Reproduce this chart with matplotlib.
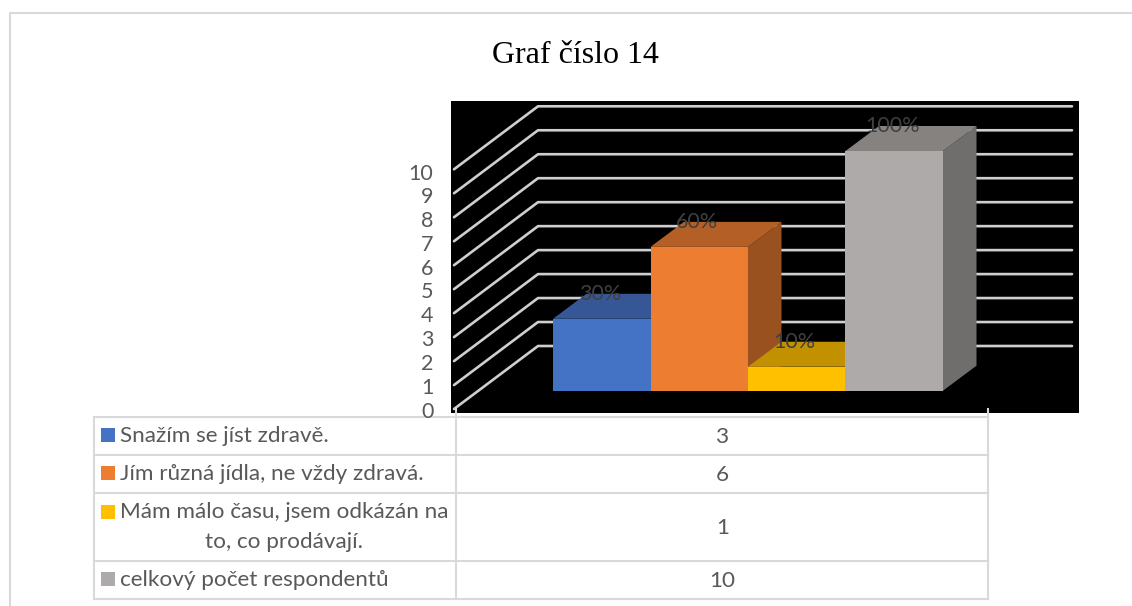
import matplotlib
matplotlib.use("Agg")
import matplotlib.pyplot as plt
from matplotlib.patches import Polygon, Rectangle

# Survey answers and their shares
categories = ["Snažím se jíst zdravě.", "Jím různá jídla, ne vždy zdravá.",
              "Mám málo času, jsem odkázán na\nto, co prodávají.", "celkový počet respondentů"]
values = [3, 6, 1, 10]
percent_labels = ["30%", "60%", "10%", "100%"]
y_ticks = list(range(11))
title = "Graf číslo 14"

front_colors = ["#4472C4", "#ED7D31", "#FFC000", "#ADAAA9"]
top_colors = ["#365695", "#B45F25", "#C19100", "#858280"]
side_colors = ["#2F4B82", "#9A5120", "#A67D00", "#706E6D"]

W, H = 1132, 606
BAR_W_PX, UNIT_PX = 97.5, 23.97
BAR_LEFT_PX, BASE_PX = 553.0, 390.7
DEPTH_X, DEPTH_Y = 33.5 / BAR_W_PX, 25.0 / UNIT_PX
TEXT_GREY = "#595959"
LINE_GREY = "#D9D9D9"
FONT = "Lato"
TABLE_SIZE = 16.2

fig = plt.figure(figsize=(W / 100, H / 100), dpi=100, facecolor="white")

# Page layer in pixel coordinates: outer frame, title and data table
page = fig.add_axes([0, 0, 1, 1], zorder=3)
page.set_xlim(0, W)
page.set_ylim(H, 0)
page.axis("off")
page.patch.set_alpha(0)

# Plot layer: black panel whose data units are category slots and answer counts
PANEL = (451, 101, 1079, 413)
ax = fig.add_axes([PANEL[0] / W, 1 - PANEL[3] / H, (PANEL[2] - PANEL[0]) / W, (PANEL[3] - PANEL[1]) / H],
                  zorder=1)
ax.set_facecolor("black")
ax.set_xlim((PANEL[0] - BAR_LEFT_PX) / BAR_W_PX, (PANEL[2] - BAR_LEFT_PX) / BAR_W_PX)
ax.set_ylim((BASE_PX - PANEL[3]) / UNIT_PX, (BASE_PX - PANEL[1]) / UNIT_PX)
ax.set_xticks([])
ax.set_yticks([])
for spine in ax.spines.values():
    spine.set_visible(False)

# Wall and floor gridlines of the oblique box
wall_front_x = (454 - BAR_LEFT_PX) / BAR_W_PX
wall_back_x = (538 - BAR_LEFT_PX) / BAR_W_PX
wall_right_x = (1072 - BAR_LEFT_PX) / BAR_W_PX
front_off, back_off = (BASE_PX - 409) / UNIT_PX, (BASE_PX - 346) / UNIT_PX
for v in y_ticks:
    ax.plot([wall_front_x, wall_back_x, wall_right_x], [v + front_off, v + back_off, v + back_off],
            color="#D0CECE", lw=1.9, solid_capstyle="round", zorder=1)

# Bars as three-faced oblique boxes
for i, (v, fc, tc, sc) in enumerate(zip(values, front_colors, top_colors, side_colors)):
    ax.add_patch(Polygon([(i + 1, 0), (i + 1 + DEPTH_X, DEPTH_Y), (i + 1 + DEPTH_X, v + DEPTH_Y), (i + 1, v)],
                         fc=sc, ec="none", zorder=2 + i))
    ax.add_patch(Polygon([(i, v), (i + DEPTH_X, v + DEPTH_Y), (i + 1 + DEPTH_X, v + DEPTH_Y), (i + 1, v)],
                         fc=tc, ec="none", zorder=2 + i))
    ax.add_patch(Rectangle((i, 0), 1, v, fc=fc, ec="none", zorder=2.5 + i))

for i, (v, lab) in enumerate(zip(values, percent_labels)):
    ax.text(i + 0.48, v + DEPTH_Y - 0.02, lab, ha="center", va="center", color="#404040",
            fontsize=15.5, family=FONT, zorder=10)

# Value axis labels, set on the front edge of the box
for v in y_ticks:
    page.text(433.5, 411.5 - v * 23.8, str(v), ha="right", va="center", color=TEXT_GREY, fontsize=15.5, family=FONT)

# Outer frame
page.plot([9.5, 9.5, W], [H, 12.5, 12.5], color=LINE_GREY, lw=1.5, solid_capstyle="butt")
page.text(575.5, 55.5, title, ha="center", va="center", color="black", fontsize=23,
          family="Liberation Serif")

# Data table
rows = [417, 455, 493, 561, 599]
left, mid, right = 93.5, 456, 988
page.add_patch(Rectangle((left, rows[0]), right - left, rows[-1] - rows[0], fc="white", ec="none", zorder=1))
for y in rows:
    page.plot([left, right], [y, y], color=LINE_GREY, lw=1.5, zorder=2)
for x, top in [(left, rows[0]), (mid, 409), (right, 409)]:
    page.plot([x, x], [top, rows[-1]], color=LINE_GREY, lw=1.5, zorder=2)

for i, (cat, v, col) in enumerate(zip(categories, values, front_colors)):
    y0, y1 = rows[i], rows[i + 1]
    cy = (y0 + y1) / 2
    page.text(722.5, cy + 1, str(v), ha="center", va="center", color=TEXT_GREY,
              fontsize=TABLE_SIZE, family=FONT, zorder=4)
    parts = cat.split("\n")
    key_top = cy - 8 if len(parts) == 1 else y0 + 12
    page.add_patch(Rectangle((101, key_top), 14, 14, fc=col, ec="none", zorder=4))
    if len(parts) == 1:
        page.text(120, cy + 0.5, cat, ha="left", va="center", color=TEXT_GREY,
                  fontsize=TABLE_SIZE, family=FONT, zorder=4)
    else:
        page.text(120, y0 + 19.5, parts[0], ha="left", va="center", color=TEXT_GREY,
                  fontsize=TABLE_SIZE, family=FONT, zorder=4)
        page.text(284, y0 + 49.5, parts[1], ha="center", va="center", color=TEXT_GREY,
                  fontsize=TABLE_SIZE, family=FONT, zorder=4)

fig.savefig("out.png", dpi=100, facecolor="white")
